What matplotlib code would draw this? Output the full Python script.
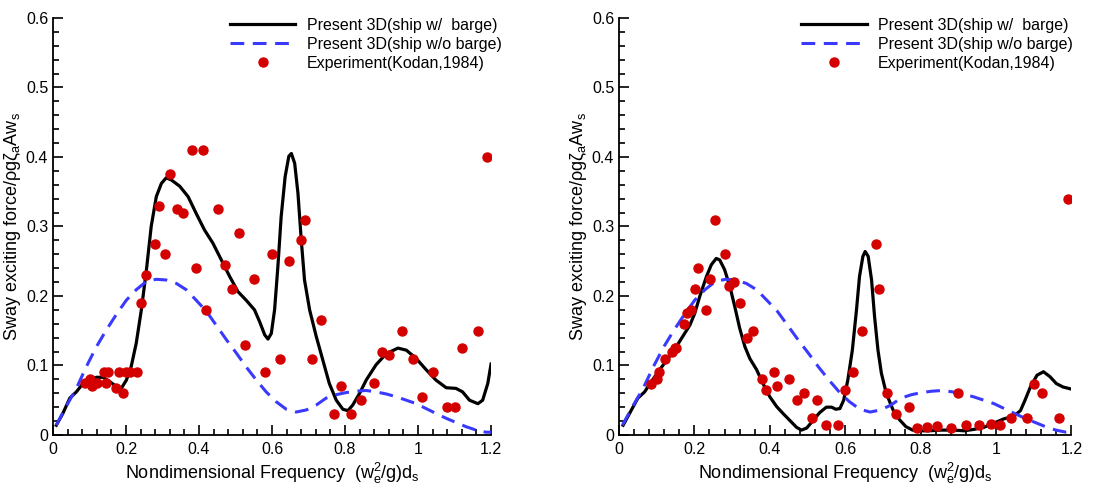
import numpy as np
import matplotlib.pyplot as plt
from matplotlib.ticker import MultipleLocator

plt.rcParams['font.family'] = ['Liberation Sans', 'DejaVu Sans']
plt.rcParams['mathtext.fontset'] = 'custom'
plt.rcParams['mathtext.rm'] = 'Liberation Sans'
plt.rcParams['mathtext.it'] = 'Liberation Sans'

# ship without barge (same curve on both plots)
freq_wo = [0.009, 0.036, 0.064, 0.091, 0.119, 0.146, 0.173, 0.201, 0.228, 0.256,
           0.283, 0.310, 0.338, 0.365, 0.392, 0.420, 0.447, 0.475, 0.502, 0.529,
           0.557, 0.584, 0.611, 0.639, 0.666, 0.694, 0.721, 0.748, 0.776, 0.803,
           0.830, 0.858, 0.885, 0.913, 0.940, 0.968, 0.995, 1.022, 1.049, 1.077,
           1.104, 1.131, 1.159, 1.186, 1.200]
force_wo = [0.014, 0.041, 0.067, 0.098, 0.127, 0.151, 0.173, 0.194, 0.209, 0.221,
            0.224, 0.223, 0.218, 0.209, 0.194, 0.178, 0.158, 0.137, 0.118, 0.098,
            0.079, 0.062, 0.048, 0.037, 0.033, 0.036, 0.043, 0.053, 0.058, 0.061,
            0.063, 0.064, 0.062, 0.059, 0.055, 0.050, 0.045, 0.038, 0.031, 0.024,
            0.018, 0.012, 0.007, 0.004, 0.004]

# left plot: ship with barge
freq_w_a = [0.009, 0.027, 0.046, 0.064, 0.082, 0.100, 0.119, 0.137, 0.155, 0.173,
            0.187, 0.201, 0.214, 0.228, 0.242, 0.256, 0.269, 0.283, 0.297, 0.310,
            0.324, 0.347, 0.370, 0.392, 0.415, 0.438, 0.461, 0.484, 0.507, 0.529,
            0.552, 0.566, 0.580, 0.589, 0.598, 0.607, 0.616, 0.625, 0.636, 0.646,
            0.653, 0.662, 0.671, 0.680, 0.689, 0.703, 0.721, 0.739, 0.757, 0.776,
            0.794, 0.808, 0.821, 0.840, 0.858, 0.885, 0.913, 0.945, 0.968, 0.995,
            1.022, 1.049, 1.077, 1.104, 1.122, 1.141, 1.164, 1.177, 1.191, 1.200]
force_w_a = [0.014, 0.031, 0.053, 0.062, 0.074, 0.080, 0.083, 0.083, 0.077, 0.070,
             0.067, 0.079, 0.098, 0.132, 0.180, 0.238, 0.300, 0.343, 0.362, 0.370,
             0.367, 0.358, 0.343, 0.319, 0.295, 0.276, 0.252, 0.228, 0.206, 0.194,
             0.180, 0.163, 0.144, 0.138, 0.146, 0.180, 0.242, 0.314, 0.372, 0.401,
             0.405, 0.391, 0.348, 0.281, 0.223, 0.180, 0.142, 0.108, 0.074, 0.050,
             0.037, 0.035, 0.043, 0.060, 0.079, 0.101, 0.117, 0.125, 0.122, 0.110,
             0.094, 0.079, 0.068, 0.067, 0.062, 0.050, 0.045, 0.050, 0.074, 0.102]

exp_freq_a = [0.087, 0.100, 0.107, 0.121, 0.141, 0.151, 0.146, 0.172, 0.181, 0.192,
              0.201, 0.210, 0.231, 0.241, 0.256, 0.280, 0.291, 0.306, 0.321, 0.340,
              0.355, 0.381, 0.391, 0.411, 0.420, 0.451, 0.471, 0.491, 0.509, 0.526,
              0.551, 0.580, 0.600, 0.621, 0.646, 0.680, 0.690, 0.710, 0.735, 0.770,
              0.789, 0.815, 0.845, 0.880, 0.900, 0.920, 0.955, 0.986, 1.010, 1.040,
              1.080, 1.101, 1.120, 1.165, 1.190]
exp_force_a = [0.075, 0.080, 0.070, 0.075, 0.090, 0.090, 0.075, 0.067, 0.090, 0.060,
               0.090, 0.090, 0.090, 0.190, 0.230, 0.275, 0.330, 0.260, 0.375, 0.325,
               0.320, 0.410, 0.240, 0.410, 0.180, 0.325, 0.245, 0.210, 0.290, 0.130,
               0.225, 0.090, 0.260, 0.110, 0.250, 0.280, 0.310, 0.110, 0.165, 0.030,
               0.070, 0.030, 0.050, 0.075, 0.120, 0.115, 0.150, 0.110, 0.055, 0.090,
               0.040, 0.040, 0.125, 0.150, 0.400]

# right plot: ship with barge
freq_w_b = [0.011, 0.028, 0.050, 0.068, 0.086, 0.108, 0.130, 0.152, 0.174, 0.188,
            0.201, 0.214, 0.232, 0.245, 0.258, 0.267, 0.280, 0.294, 0.307, 0.320,
            0.334, 0.347, 0.365, 0.382, 0.400, 0.418, 0.435, 0.453, 0.471, 0.484,
            0.498, 0.515, 0.532, 0.550, 0.564, 0.575, 0.586, 0.596, 0.607, 0.619,
            0.630, 0.638, 0.647, 0.653, 0.661, 0.670, 0.678, 0.687, 0.696, 0.709,
            0.727, 0.744, 0.761, 0.779, 0.796, 0.822, 0.855, 0.889, 0.916, 0.941,
            0.968, 0.994, 1.020, 1.047, 1.065, 1.077, 1.092, 1.109, 1.126, 1.143,
            1.160, 1.178, 1.200]
force_w_b = [0.014, 0.031, 0.053, 0.062, 0.077, 0.094, 0.110, 0.127, 0.146, 0.158,
             0.175, 0.199, 0.228, 0.245, 0.254, 0.252, 0.238, 0.214, 0.185, 0.154,
             0.127, 0.110, 0.094, 0.074, 0.055, 0.041, 0.031, 0.021, 0.011, 0.007,
             0.010, 0.021, 0.032, 0.040, 0.040, 0.037, 0.038, 0.050, 0.079, 0.122,
             0.180, 0.228, 0.257, 0.264, 0.257, 0.223, 0.170, 0.122, 0.089, 0.060,
             0.036, 0.022, 0.012, 0.007, 0.006, 0.006, 0.007, 0.007, 0.006, 0.008,
             0.011, 0.017, 0.023, 0.027, 0.035, 0.050, 0.070, 0.086, 0.091, 0.084,
             0.074, 0.069, 0.066]

exp_freq_b = [0.086, 0.101, 0.106, 0.121, 0.141, 0.148, 0.152, 0.172, 0.181, 0.190,
              0.201, 0.210, 0.230, 0.241, 0.256, 0.280, 0.291, 0.305, 0.321, 0.340,
              0.355, 0.380, 0.391, 0.411, 0.420, 0.451, 0.471, 0.491, 0.512, 0.526,
              0.550, 0.581, 0.600, 0.621, 0.645, 0.681, 0.690, 0.711, 0.736, 0.769,
              0.791, 0.816, 0.844, 0.881, 0.900, 0.920, 0.955, 0.986, 1.010, 1.041,
              1.081, 1.101, 1.121, 1.166, 1.190]
exp_force_b = [0.074, 0.080, 0.090, 0.110, 0.120, 0.125, 0.125, 0.160, 0.175, 0.180,
               0.210, 0.240, 0.180, 0.225, 0.310, 0.260, 0.215, 0.220, 0.190, 0.140,
               0.150, 0.080, 0.065, 0.090, 0.070, 0.080, 0.050, 0.060, 0.025, 0.050,
               0.015, 0.015, 0.065, 0.090, 0.150, 0.275, 0.210, 0.060, 0.030, 0.040,
               0.010, 0.011, 0.013, 0.010, 0.060, 0.015, 0.015, 0.016, 0.015, 0.025,
               0.025, 0.074, 0.060, 0.025, 0.340]

RED = '#d40000'
BLUE = '#3a3aff'


def draw_panel(ax, fw, yw, ef, ey, leg_x):
    ax.plot(fw, yw, color='black', lw=2.3, label='Present 3D(ship w/  barge)')
    ax.plot(freq_wo, force_wo, color=BLUE, lw=2.2, dashes=(4.5, 2.8),
            label='Present 3D(ship w/o barge)')
    ax.plot(ef, ey, 'o', color=RED, ms=6.5, lw=0, label='Experiment(Kodan,1984)')

    ax.set_xlim(0, 1.2)
    ax.set_ylim(0, 0.6)
    ax.xaxis.set_major_locator(MultipleLocator(0.2))
    ax.xaxis.set_minor_locator(MultipleLocator(0.04))
    ax.yaxis.set_major_locator(MultipleLocator(0.1))
    ax.yaxis.set_minor_locator(MultipleLocator(0.02))
    ax.xaxis.set_major_formatter(plt.FuncFormatter(lambda v, p: '%g' % round(v, 2)))
    ax.yaxis.set_major_formatter(plt.FuncFormatter(lambda v, p: '%g' % round(v, 2)))
    ax.tick_params(which='both', direction='in', width=1.2, labelsize=11.5)
    ax.tick_params(which='major', length=7.5)
    ax.tick_params(which='minor', length=4.3)
    ax.tick_params(axis='x', pad=5)
    for side in ['top', 'right']:
        ax.spines[side].set_visible(False)
    for side in ['left', 'bottom']:
        ax.spines[side].set_linewidth(1.3)

    ax.set_xlabel('Nondimensional Frequency  (w$_{\\mathregular{e}}^{\\mathregular{2}}$/g)d$_{\\mathregular{s}}$',
                  fontsize=13, labelpad=3)
    ax.set_ylabel('Sway exciting force/\u03c1g\u03b6$_{\\mathregular{a}}$Aw$_{\\mathregular{s}}$',
                  fontsize=13, labelpad=2)
    ax.legend(loc='upper left', bbox_to_anchor=(leg_x, 1.0), frameon=False,
              fontsize=11.5, handlelength=4.1, handletextpad=0.7,
              labelspacing=0.25, borderpad=0, borderaxespad=0)


fig = plt.figure(figsize=(11.02, 4.86), dpi=100)
ax1 = fig.add_axes([0.0481, 0.105, 0.3975, 0.858])
ax2 = fig.add_axes([0.5617, 0.105, 0.4105, 0.858])

draw_panel(ax1, freq_w_a, force_w_a, exp_freq_a, exp_force_a, 0.404)
draw_panel(ax2, freq_w_b, force_w_b, exp_freq_b, exp_force_b, 0.403)

fig.savefig('out.png', dpi=100)
